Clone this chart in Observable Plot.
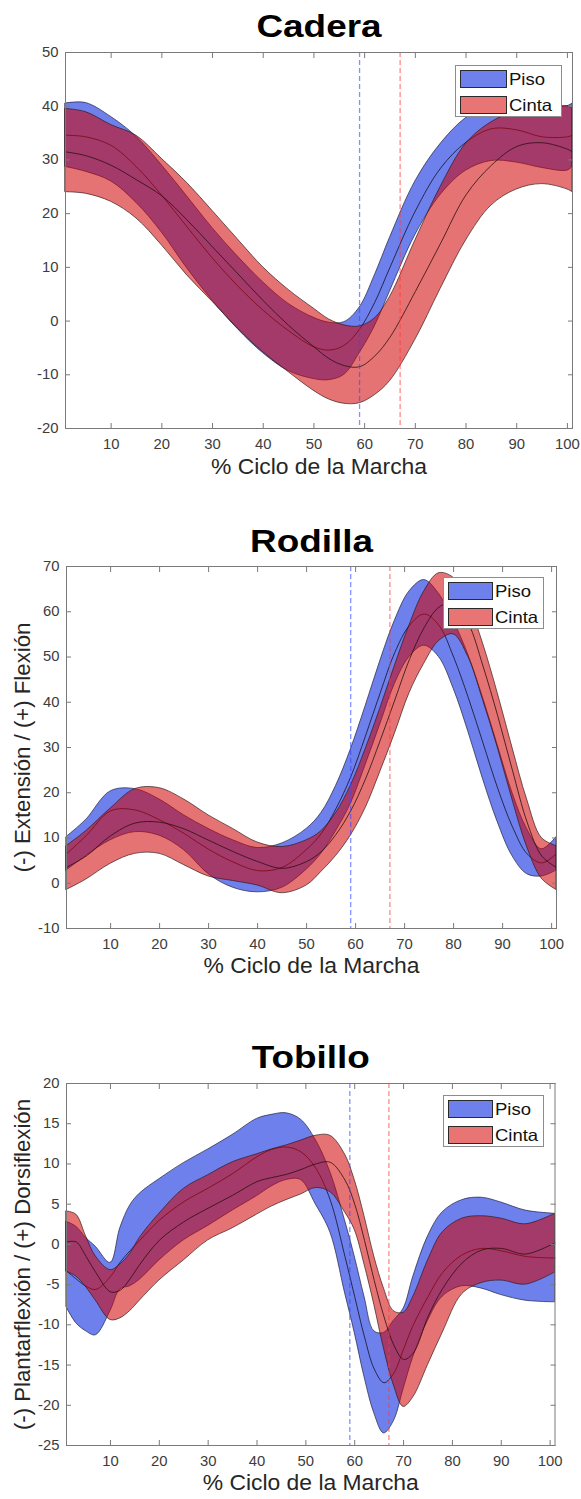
<!DOCTYPE html>
<html><head><meta charset="utf-8">
<script src="https://cdn.jsdelivr.net/npm/d3@7"></script>
<script src="https://cdn.jsdelivr.net/npm/@observablehq/plot@0.6"></script>
<style>
body{margin:0;background:#fff;font-family:"Liberation Sans",Arial,Helvetica,sans-serif;}
#root{position:relative;width:581px;height:1499px;overflow:hidden;background:#fff;}
.panel{position:absolute;left:0;width:581px;}
.panel svg{position:absolute;left:0;top:0;}
.legend{position:absolute;background:#fff;border:1px solid #8c8c8c;box-sizing:border-box;}
.sw{position:absolute;box-sizing:border-box;border:1px solid #2a2a2a;}
.lt{position:absolute;font-size:16.5px;color:#111;line-height:18px;white-space:nowrap;transform:scaleX(1.12);transform-origin:left center;}
</style></head><body><div id="root"></div>
<script>
// ---------- shared ----------
const seriesNames = ["Piso", "Cinta"];
const xTicks = [10, 20, 30, 40, 50, 60, 70, 80, 90, 100];
const xDomain = [1, 101];
const eventPiso = [59];
const eventCinta = [67];
const xLabel = "% Ciclo de la Marcha";

// ---------- Cadera ----------
const caderaTitle = "Cadera";
const caderaYTicks = [-20, -10, 0, 10, 20, 30, 40, 50];
const caderaT = [1, 5, 10, 15, 20, 25, 30, 35, 40, 45, 50, 53, 56, 59, 62, 65, 70, 75, 80, 85, 90, 95, 100, 101];
const caderaPisoHi   = [40.5, 40.6, 38.0, 34.3, 29.0, 23.2, 17.3, 12.0, 7.2, 3.2, 0.6, -0.3, -0.2, 2.5, 8.5, 15.5, 26.0, 33.0, 37.8, 40.4, 40.6, 39.8, 40.0, 40.5];
const caderaPisoMean = [34.6, 34.3, 32.7, 28.7, 23.4, 17.5, 11.7, 6.5, 2.0, -1.8, -4.8, -5.4, -4.5, -1.5, 3.5, 10.0, 20.5, 28.5, 33.3, 35.8, 35.6, 34.3, 34.3, 34.6];
const caderaPisoLo   = [28.7, 27.8, 26.0, 22.0, 16.5, 9.8, 3.8, -1.5, -6.0, -9.3, -10.8, -11.0, -10.0, -6.0, -1.0, 5.5, 16.0, 23.5, 28.0, 29.8, 29.5, 28.5, 28.0, 28.7];
const caderaCintaHi   = [39.5, 38.9, 36.5, 34.5, 30.2, 25.7, 20.5, 15.2, 10.0, 5.8, 2.3, 0.3, -0.8, -1.0, 0.5, 4.5, 15.0, 25.0, 33.0, 37.0, 39.0, 39.5, 40.0, 39.5];
const caderaCintaMean = [31.5, 30.8, 29.0, 26.3, 23.3, 18.8, 13.8, 8.8, 3.8, -0.8, -4.8, -7.0, -8.3, -8.5, -6.5, -3.0, 5.5, 14.5, 23.5, 29.0, 32.5, 33.2, 32.0, 31.5];
const caderaCintaLo   = [24.0, 23.7, 22.2, 19.1, 14.1, 8.5, 3.6, -1.4, -5.8, -9.5, -13.0, -14.6, -15.4, -15.3, -13.8, -11.2, -3.5, 6.0, 15.0, 21.5, 24.5, 25.5, 24.5, 24.0];

// ---------- Rodilla ----------
const rodillaTitle = "Rodilla";
const rodillaYLabel = "(-) Extensión / (+) Flexión";
const rodillaYTicks = [-10, 0, 10, 20, 30, 40, 50, 60, 70];
const rodillaT = [1, 5, 10, 15, 20, 25, 30, 35, 40, 45, 50, 53, 56, 59, 62, 65, 68, 71, 74, 77, 80, 83, 86, 89, 92, 95, 98, 101];
const rodillaPisoHi   = [10.2, 14.0, 20.3, 20.8, 18.5, 15.0, 12.0, 9.5, 7.8, 8.8, 12.0, 15.5, 21.5, 29.5, 39.0, 49.0, 58.0, 64.5, 67.0, 64.0, 58.0, 50.5, 41.0, 30.5, 20.0, 12.0, 7.5, 10.2];
const rodillaPisoMean = [6.5, 10.5, 16.0, 16.2, 14.0, 11.0, 7.5, 4.7, 2.8, 3.5, 7.5, 11.0, 16.5, 23.5, 32.5, 42.0, 51.0, 57.0, 59.5, 57.0, 50.0, 41.0, 31.0, 21.0, 12.5, 6.5, 4.5, 6.5];
const rodillaPisoLo   = [2.8, 6.0, 9.5, 11.3, 10.5, 7.3, 2.0, -1.0, -2.0, -1.0, 3.0, 6.5, 11.5, 17.5, 26.0, 35.0, 44.0, 50.0, 52.5, 50.0, 43.0, 33.5, 23.0, 13.5, 6.0, 2.0, 1.5, 2.8];
const rodillaCintaHi   = [8.2, 11.5, 16.5, 20.8, 21.0, 18.5, 15.0, 12.0, 9.0, 8.0, 9.5, 11.5, 15.5, 21.5, 29.5, 38.5, 48.0, 57.0, 64.5, 68.5, 67.5, 62.0, 53.0, 42.0, 30.0, 18.5, 10.0, 8.2];
const rodillaCintaMean = [3.5, 6.0, 10.5, 13.3, 13.5, 12.0, 9.5, 7.0, 4.8, 3.3, 4.8, 7.0, 10.8, 16.0, 23.0, 31.5, 40.5, 49.5, 56.5, 61.0, 62.0, 57.5, 48.0, 37.0, 25.0, 13.5, 6.0, 3.5];
const rodillaCintaLo   = [-1.5, 0.8, 4.3, 6.5, 6.5, 4.0, 1.5, 0.5, -0.5, -2.2, -0.5, 2.5, 6.0, 10.5, 16.5, 24.5, 33.0, 42.0, 48.5, 53.5, 55.0, 50.0, 40.5, 30.0, 18.5, 8.0, 1.0, -1.5];

// ---------- Tobillo ----------
const tobilloTitle = "Tobillo";
const tobilloYLabel = "(-) Plantarflexión / (+) Dorsiflexión";
const tobilloYTicks = [-25, -20, -15, -10, -5, 0, 5, 10, 15, 20];
const tobilloT = [1, 3, 5, 7, 10, 12, 14, 16, 20, 25, 30, 35, 40, 43, 46, 49, 52, 55, 58, 60, 62, 64, 66, 68, 70, 72, 75, 78, 82, 86, 90, 95, 101];
const tobilloPisoHi   = [2.8, 2.2, 0.8, -0.3, -2.3, 2.0, 4.8, 6.3, 8.1, 10.1, 11.8, 13.6, 15.6, 16.1, 16.3, 15.5, 13.0, 9.0, 3.0, -1.5, -6.5, -10.8, -11.0, -9.5, -8.0, -4.0, 1.0, 4.0, 5.5, 5.8, 5.2, 4.2, 3.8];
const tobilloPisoMean = [-3.3, -4.3, -5.2, -5.6, -4.0, -2.2, -0.8, 0.5, 3.0, 5.3, 7.0, 8.8, 10.9, 11.8, 12.1, 11.5, 9.5, 5.5, -1.5, -6.5, -11.5, -15.5, -17.2, -16.0, -13.0, -10.0, -6.5, -3.5, -1.3, -0.5, -0.8, -1.5, -1.7];
const tobilloPisoLo   = [-7.8, -9.8, -10.8, -11.3, -8.3, -5.6, -5.2, -4.4, -2.0, 0.5, 2.3, 4.2, 6.0, 7.2, 8.0, 8.0, 5.0, 1.5, -6.0, -11.0, -16.5, -21.0, -23.5, -22.0, -18.0, -14.0, -9.5, -6.5, -5.2, -5.5, -6.3, -7.0, -7.2];
const tobilloCintaHi   = [4.1, 3.7, 1.0, -1.5, -3.2, -2.5, -1.2, 0.8, 3.8, 6.9, 8.6, 10.2, 11.2, 11.8, 12.3, 12.9, 13.5, 13.5, 11.2, 8.0, 3.5, -1.5, -5.5, -8.3, -8.5, -6.5, -2.0, 1.5, 3.2, 3.5, 3.2, 2.5, 3.8];
const tobilloCintaMean = [0.3, 0.3, -1.5, -3.5, -5.9, -5.7, -4.3, -2.5, 0.5, 2.8, 4.5, 6.1, 7.8, 8.3, 8.7, 9.3, 10.0, 10.2, 8.0, 5.0, 0.5, -4.5, -9.0, -12.5, -14.3, -13.5, -9.0, -5.5, -2.3, -0.7, -0.5, -1.2, 0.2];
const tobilloCintaLo   = [-3.4, -4.0, -5.3, -7.0, -9.4, -9.2, -8.3, -7.0, -4.5, -2.0, 0.5, 2.0, 3.7, 4.7, 5.5, 6.2, 7.0, 6.5, 4.0, 1.8, -2.5, -7.5, -13.0, -17.5, -20.2, -19.0, -15.0, -11.0, -6.2, -4.8, -4.5, -5.0, -3.5];

// ---------- styling ----------
const FONT = '"Liberation Sans", Arial, Helvetica, sans-serif';
const BLUE = "rgb(13,43,222)", RED = "rgb(210,0,0)";
const SW_BLUE = "#6e80eb", SW_RED = "#e87474";
const AX = "#7a7a7a";

function rows(t, lo, mean, hi) {
  return t.map((x, i) => ({t: x, lo: lo[i], mean: mean[i], hi: hi[i]}));
}

// widen glyphs horizontally (the reference figure is slightly stretched)
function widen(svg, cls, s) {
  svg.querySelectorAll("g." + cls + " text").forEach(el => {
    const tr = el.getAttribute("transform");
    if (tr && tr.includes("translate")) {
      el.setAttribute("transform", tr + ` scale(${s},1)`);
    } else {
      const x = +el.getAttribute("x") || 0, y = +el.getAttribute("y") || 0;
      el.removeAttribute("x"); el.removeAttribute("y");
      el.setAttribute("transform", `translate(${x},${y}) ${tr || ""} scale(${s},1)`);
    }
  });
}

function panel(o) {
  const P = rows(o.t, o.pLo, o.pMean, o.pHi);
  const C = rows(o.t, o.cLo, o.cMean, o.cHi);
  const curve = "catmull-rom";
  const marks = [
    Plot.areaY(P, {x: "t", y1: "lo", y2: "hi", curve, fill: BLUE, fillOpacity: 0.6, stroke: "#1c1c3a", strokeWidth: 0.8, strokeOpacity: 0.85}),
    Plot.lineY(P, {x: "t", y: "mean", curve, stroke: "#12122a", strokeWidth: 0.9, strokeOpacity: 0.9}),
    Plot.areaY(C, {x: "t", y1: "lo", y2: "hi", curve, fill: RED, fillOpacity: 0.55, stroke: "#2e1616", strokeWidth: 0.8, strokeOpacity: 0.85}),
    Plot.lineY(C, {x: "t", y: "mean", curve, stroke: "#2a1010", strokeWidth: 0.9, strokeOpacity: 0.9}),
    Plot.ruleX(eventPiso, {stroke: "#3348ff", strokeOpacity: 0.6, strokeWidth: 1.3, strokeDasharray: "5,3"}),
    Plot.ruleX(eventCinta, {stroke: "#ff3838", strokeOpacity: 0.6, strokeWidth: 1.3, strokeDasharray: "5,3"}),
    Plot.frame({stroke: AX}),
    Plot.axisX(xTicks, {anchor: "bottom", tickSize: -5, fill: "none", stroke: AX, label: null}),
    Plot.axisX(xTicks, {anchor: "top", tickSize: -5, fill: "none", stroke: AX, label: null}),
    Plot.axisY(o.yTicks, {anchor: "left", tickSize: -5, fill: "none", stroke: AX, label: null}),
    Plot.axisY(o.yTicks, {anchor: "right", tickSize: -5, fill: "none", stroke: AX, label: null}),
    Plot.axisX(xTicks, {anchor: "bottom", tickSize: 0, tickPadding: 10.5, fontSize: 14, fill: "#3c3c3c", label: null, tickFormat: d => String(d), className: "tk"}),
    Plot.axisY(o.yTicks, {anchor: "left", tickSize: 0, tickPadding: 7, fontSize: 14, fill: "#3c3c3c", label: null, tickFormat: d => String(d), className: "tky"}),
    Plot.text([o.title], {text: d => d, frameAnchor: "top", lineAnchor: "middle", textAnchor: "middle", dy: o.titleDy, fontSize: 31, fontWeight: "bold", fill: "#000", className: "ttl"}),
    Plot.text([xLabel], {text: d => d, frameAnchor: "bottom", lineAnchor: "middle", textAnchor: "middle", dy: o.xLabelDy, fontSize: 22, fill: "#262626", className: "xl"})
  ];
  if (o.yLabel) marks.push(Plot.text([o.yLabel], {text: d => d, frameAnchor: "left", lineAnchor: "middle", textAnchor: "middle", dx: -44, rotate: -90, fontSize: 22.2, fill: "#262626"}));
  const svg = Plot.plot({
    width: 581, height: o.height,
    marginTop: o.m[0], marginRight: o.m[1], marginBottom: o.m[2], marginLeft: o.m[3],
    style: {fontFamily: FONT, background: "transparent", overflow: "visible"},
    x: {domain: xDomain, axis: null, label: null},
    y: {domain: o.yDomain, axis: null, label: null},
    marks
  });
  widen(svg, "ttl", 1.19);
  widen(svg, "xl", 1.04);
  widen(svg, "tk", 1.06);
  widen(svg, "tky", 1.06);
  const div = document.createElement("div");
  div.className = "panel";
  div.style.top = o.top + "px";
  div.style.height = o.height + "px";
  div.appendChild(svg);
  // legend (HTML, over the plot)
  const lg = document.createElement("div");
  lg.className = "legend";
  const L = o.legend;
  lg.style.left = L.left + "px"; lg.style.top = L.top + "px";
  lg.style.width = L.width + "px"; lg.style.height = L.height + "px";
  const swColors = [SW_BLUE, SW_RED];
  seriesNames.forEach((name, i) => {
    const sw = document.createElement("div");
    sw.className = "sw";
    sw.style.left = "4px"; sw.style.top = (4 + i * 26) + "px";
    sw.style.width = L.sw + "px"; sw.style.height = "18px";
    sw.style.background = swColors[i];
    lg.appendChild(sw);
    const t = document.createElement("div");
    t.className = "lt";
    t.textContent = name;
    t.style.left = (L.sw + 6) + "px"; t.style.top = (4 + i * 26) + "px";
    lg.appendChild(t);
  });
  div.appendChild(lg);
  document.getElementById("root").appendChild(div);
}

panel({
  top: 0, height: 500, m: [52, 9, 72, 65],
  title: caderaTitle, titleDy: -25.5, xLabelDy: 38,
  yDomain: [-20, 50], yTicks: caderaYTicks,
  t: caderaT, pLo: caderaPisoLo, pMean: caderaPisoMean, pHi: caderaPisoHi,
  cLo: caderaCintaLo, cMean: caderaCintaMean, cHi: caderaCintaHi,
  legend: {left: 455, top: 65, width: 107, height: 52, sw: 47}
});
panel({
  top: 500, height: 500, m: [66, 25, 72, 66],
  title: rodillaTitle, titleDy: -24.5, xLabelDy: 37.5, yLabel: rodillaYLabel,
  yDomain: [-10, 70], yTicks: rodillaYTicks,
  t: rodillaT, pLo: rodillaPisoLo, pMean: rodillaPisoMean, pHi: rodillaPisoHi,
  cLo: rodillaCintaLo, cMean: rodillaCintaMean, cHi: rodillaCintaHi,
  legend: {left: 442.5, top: 77, width: 101, height: 52, sw: 45}
});
panel({
  top: 1000, height: 499, m: [83, 26.5, 54, 66],
  title: tobilloTitle, titleDy: -25, xLabelDy: 37.5, yLabel: tobilloYLabel,
  yDomain: [-25, 20], yTicks: tobilloYTicks,
  t: tobilloT, pLo: tobilloPisoLo, pMean: tobilloPisoMean, pHi: tobilloPisoHi,
  cLo: tobilloCintaLo, cMean: tobilloCintaMean, cHi: tobilloCintaHi,
  legend: {left: 442.5, top: 95, width: 101, height: 52, sw: 45}
});
</script></body></html>
